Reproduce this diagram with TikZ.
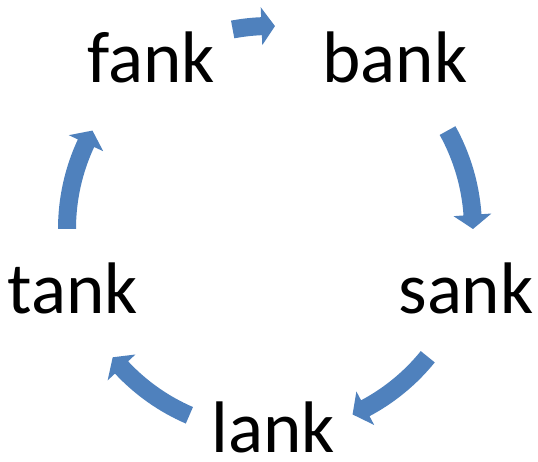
\documentclass[tikz,border=0pt]{standalone}
\usepackage{fontspec}
\setmainfont{Carlito}
\definecolor{arrowblue}{RGB}{79,129,189}
\tikzset{
  word/.style={anchor=base, inner sep=0pt, font=\fontsize{73}{86}\selectfont},
  cyc/.style={fill=arrowblue, draw=none}
}
% #1 tail angle, #2 head-base angle, #3 tip angle
\newcommand{\cycarrow}[3]{%
  \fill[cyc] (#1:194) arc[start angle=#1, end angle=#2, radius=194]
    -- (#2:184) -- (#3:203) -- (#2:222) -- (#2:212)
    arc[start angle=#2, end angle=#1, radius=212] -- cycle;}
\begin{document}
\begin{tikzpicture}[x=1pt,y=1pt]
\useasboundingbox (0,0) rectangle (538,461);
\node[word] (fank) at (151,378) {fank};
\node[word] (bank) at (395,378) {bank};
\node[word] (sank) at (466,148) {sank};
\node[word] (lank) at (273.5,9) {lank};
\node[word] (tank) at (72.5,148) {tank};
\coordinate (ctr) at (270,232);
\begin{scope}[shift={(ctr)}]
  \cycarrow{100.6}{92.4}{88.6}
  \cycarrow{29}{4}{0}
  \cycarrow{-39}{-62}{-66}
  \cycarrow{246.6}{223}{219.2}
  \cycarrow{180}{155}{151}
\end{scope}
\end{tikzpicture}
\end{document}
